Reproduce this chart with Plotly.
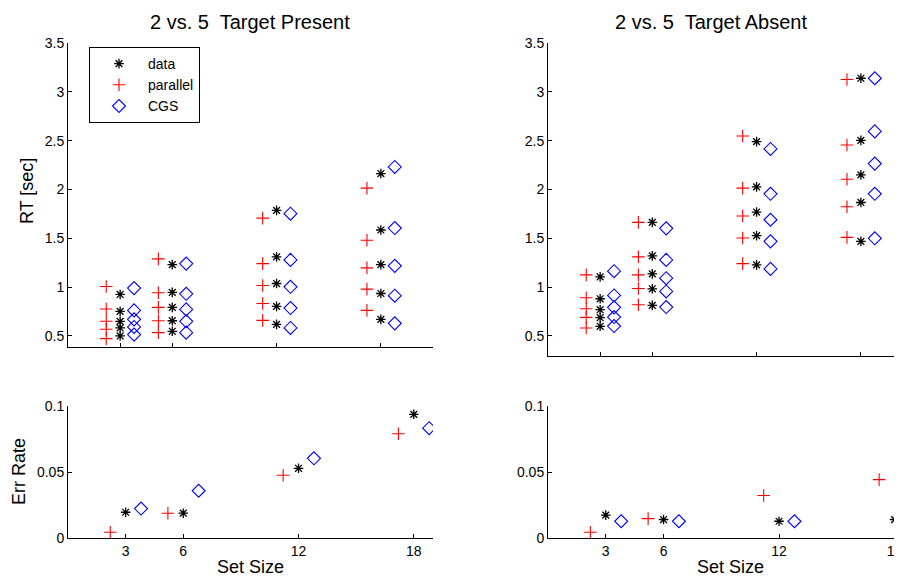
import plotly.graph_objects as go

# ---------------- data ----------------
set_sizes = [3, 6, 12, 18]
x_tick_labels = ["3", "6", "12", "18"]

# RT [sec], Target Present: 5 values per set size
present_data_rt = [
    [0.925, 0.752, 0.650, 0.582, 0.500],
    [1.231, 0.946, 0.793, 0.656, 0.548],
    [1.786, 1.310, 1.037, 0.803, 0.619],
    [2.163, 1.585, 1.231, 0.935, 0.670],
]
present_parallel_rt = [
    [1.007, 0.776, 0.650, 0.568, 0.473],
    [1.289, 0.942, 0.793, 0.656, 0.534],
    [1.707, 1.241, 1.017, 0.833, 0.660],
    [2.014, 1.480, 1.197, 0.980, 0.762],
]
present_cgs_rt = [
    [0.990, 0.762, 0.670, 0.592, 0.514],
    [1.241, 0.932, 0.772, 0.650, 0.534],
    [1.752, 1.279, 1.003, 0.786, 0.582],
    [2.231, 1.605, 1.218, 0.912, 0.629],
]

# RT [sec], Target Absent
absent_data_rt = [
    [1.105, 0.881, 0.769, 0.687, 0.599],
    [1.663, 1.320, 1.136, 0.983, 0.813],
    [2.490, 2.027, 1.769, 1.527, 1.228],
    [3.139, 2.503, 2.150, 1.867, 1.469],
]
absent_parallel_rt = [
    [1.126, 0.891, 0.779, 0.690, 0.582],
    [1.663, 1.310, 1.126, 0.986, 0.820],
    [2.548, 2.014, 1.728, 1.503, 1.241],
    [3.126, 2.456, 2.105, 1.823, 1.510],
]
absent_cgs_rt = [
    [1.163, 0.915, 0.793, 0.694, 0.602],
    [1.602, 1.279, 1.092, 0.956, 0.796],
    [2.415, 1.956, 1.690, 1.469, 1.187],
    [3.139, 2.595, 2.265, 1.956, 1.500],
]

# Error rates
present_data_err = [0.0195, 0.0188, 0.0528, 0.0937]
present_parallel_err = [0.0043, 0.0188, 0.0475, 0.0790]
present_cgs_err = [0.0223, 0.0358, 0.0604, 0.0832]

absent_data_err = [0.0173, 0.0140, 0.0127, 0.0140]
absent_parallel_err = [0.0043, 0.0147, 0.0322, 0.0442]
absent_cgs_err = [0.0127, 0.0127, 0.0127, None]  # last point lies outside the visible area

rt_ticks = [0.5, 1, 1.5, 2, 2.5, 3, 3.5]
rt_tick_labels = ["0.5", "1", "1.5", "2", "2.5", "3", "3.5"]
err_ticks = [0, 0.05, 0.1]
err_tick_labels = ["0", "0.05", "0.1"]

# ---------------- styling ----------------
FONT = "Liberation Sans, Arial, Helvetica, sans-serif"
OFFSET = 0.8
STYLES = {
    "data": dict(symbol="asterisk-open", size=8, color="black", line=dict(width=1.3, color="black")),
    "parallel": dict(symbol="cross-thin-open", size=9, color="#ff0000", line=dict(width=1.1, color="#ff0000")),
    "CGS": dict(symbol="diamond-open", size=10, color="#0000ff", line=dict(width=1.1, color="#0000ff")),
}
SHIFT = {"data": 0.0, "parallel": -OFFSET, "CGS": OFFSET}

fig = go.Figure()


def add_rt(series, name, xa, ya, show):
    xs, ys = [], []
    for s, vals in zip(set_sizes, series):
        for v in vals:
            xs.append(s + SHIFT[name])
            ys.append(v)
    fig.add_trace(go.Scatter(x=xs, y=ys, mode="markers", name=name, marker=STYLES[name],
                             xaxis=xa, yaxis=ya, showlegend=show, cliponaxis=False))


def add_err(series, name, xa, ya):
    xs = [s + SHIFT[name] for s in set_sizes]
    fig.add_trace(go.Scatter(x=xs, y=series, mode="markers", name=name, marker=STYLES[name],
                             xaxis=xa, yaxis=ya, showlegend=False, cliponaxis=True))


add_rt(present_data_rt, "data", "x", "y", True)
add_rt(present_parallel_rt, "parallel", "x", "y", True)
add_rt(present_cgs_rt, "CGS", "x", "y", True)

add_rt(absent_data_rt, "data", "x2", "y2", False)
add_rt(absent_parallel_rt, "parallel", "x2", "y2", False)
add_rt(absent_cgs_rt, "CGS", "x2", "y2", False)

add_err(present_data_err, "data", "x3", "y3")
add_err(present_parallel_err, "parallel", "x3", "y3")
add_err(present_cgs_err, "CGS", "x3", "y3")

add_err(absent_data_err, "data", "x4", "y4")
add_err(absent_parallel_err, "parallel", "x4", "y4")
add_err(absent_cgs_err, "CGS", "x4", "y4")

# The page body has an 8px margin: figure pixel = screen pixel - 8.
# Plot area on screen: x 68..910, y 43..538  ->  figure: x 60..902, y 35..530
OFF = 8
L, T = 60, 35
W, H = 902 - L, 530 - T


def px(sx):
    return (sx - OFF - L) / W


def py(sy):
    return (T + H - (sy - OFF)) / H


axis_common = dict(showgrid=False, zeroline=False, showline=True, linecolor="black", linewidth=1,
                   ticks="inside", ticklen=4, tickcolor="black", tickwidth=1, automargin=False,
                   ticklabeloverflow="allow",
                   tickfont=dict(family=FONT, size=14, color="black"), mirror=False)

left_dom = [0, px(433)]
right_dom = [px(548), 1.0]

fig.update_layout(
    width=902, height=580,
    margin=dict(l=L, r=0, t=T, b=580 - T - H, autoexpand=False),
    paper_bgcolor="white", plot_bgcolor="white",
    font=dict(family=FONT, size=14, color="black"),
    xaxis=dict(domain=left_dom, range=[0, 21], anchor="y", tickvals=set_sizes,
               showticklabels=False, **axis_common),
    yaxis=dict(domain=[py(347), 1.0], range=[0.387, 3.5], anchor="x", tickvals=rt_ticks,
               ticktext=rt_tick_labels, **axis_common),
    xaxis2=dict(domain=right_dom, range=[0, (910 - 547) / 17.43], anchor="y2", tickvals=set_sizes,
                showticklabels=False, **axis_common),
    yaxis2=dict(domain=[py(356), 1.0], range=[0.295, 3.5], anchor="x2", tickvals=rt_ticks,
                ticktext=rt_tick_labels, **axis_common),
    xaxis3=dict(domain=left_dom, range=[0, 19], anchor="y3", tickvals=set_sizes,
                ticktext=x_tick_labels, **axis_common),
    yaxis3=dict(domain=[0, py(406)], range=[0, 0.1], anchor="x3", tickvals=err_ticks,
                ticktext=err_tick_labels, **axis_common),
    xaxis4=dict(domain=right_dom, range=[0, (910 - 549) / 19.2], anchor="y4", tickvals=set_sizes,
                ticktext=x_tick_labels, **axis_common),
    yaxis4=dict(domain=[0, py(406)], range=[0, 0.1], anchor="x4", tickvals=err_ticks,
                ticktext=err_tick_labels, **axis_common),
    legend=dict(x=px(89), y=py(47), xanchor="left", yanchor="top",
                bordercolor="black", borderwidth=1, bgcolor="white",
                font=dict(family=FONT, size=14, color="black"),
                itemwidth=48, tracegroupgap=0),
    showlegend=True,
)

annos = [
    dict(text="2 vs. 5  Target Present", x=px(250), y=py(22), size=20, angle=0),
    dict(text="2 vs. 5  Target Absent", x=px(711), y=py(22), size=20, angle=0),
    dict(text="RT [sec]", x=px(27), y=py(191), size=18, angle=-90),
    dict(text="Err Rate", x=px(19), y=py(472), size=18, angle=-90),
    dict(text="Set Size", x=px(250), y=py(567), size=18, angle=0),
    dict(text="Set Size", x=px(730), y=py(567), size=18, angle=0),
]
for a in annos:
    fig.add_annotation(text=a["text"], x=a["x"], y=a["y"], xref="paper", yref="paper",
                       xanchor="center", yanchor="middle", showarrow=False, textangle=a["angle"],
                       font=dict(family=FONT, size=a["size"], color="black"))

fig.write_html("out.html")
